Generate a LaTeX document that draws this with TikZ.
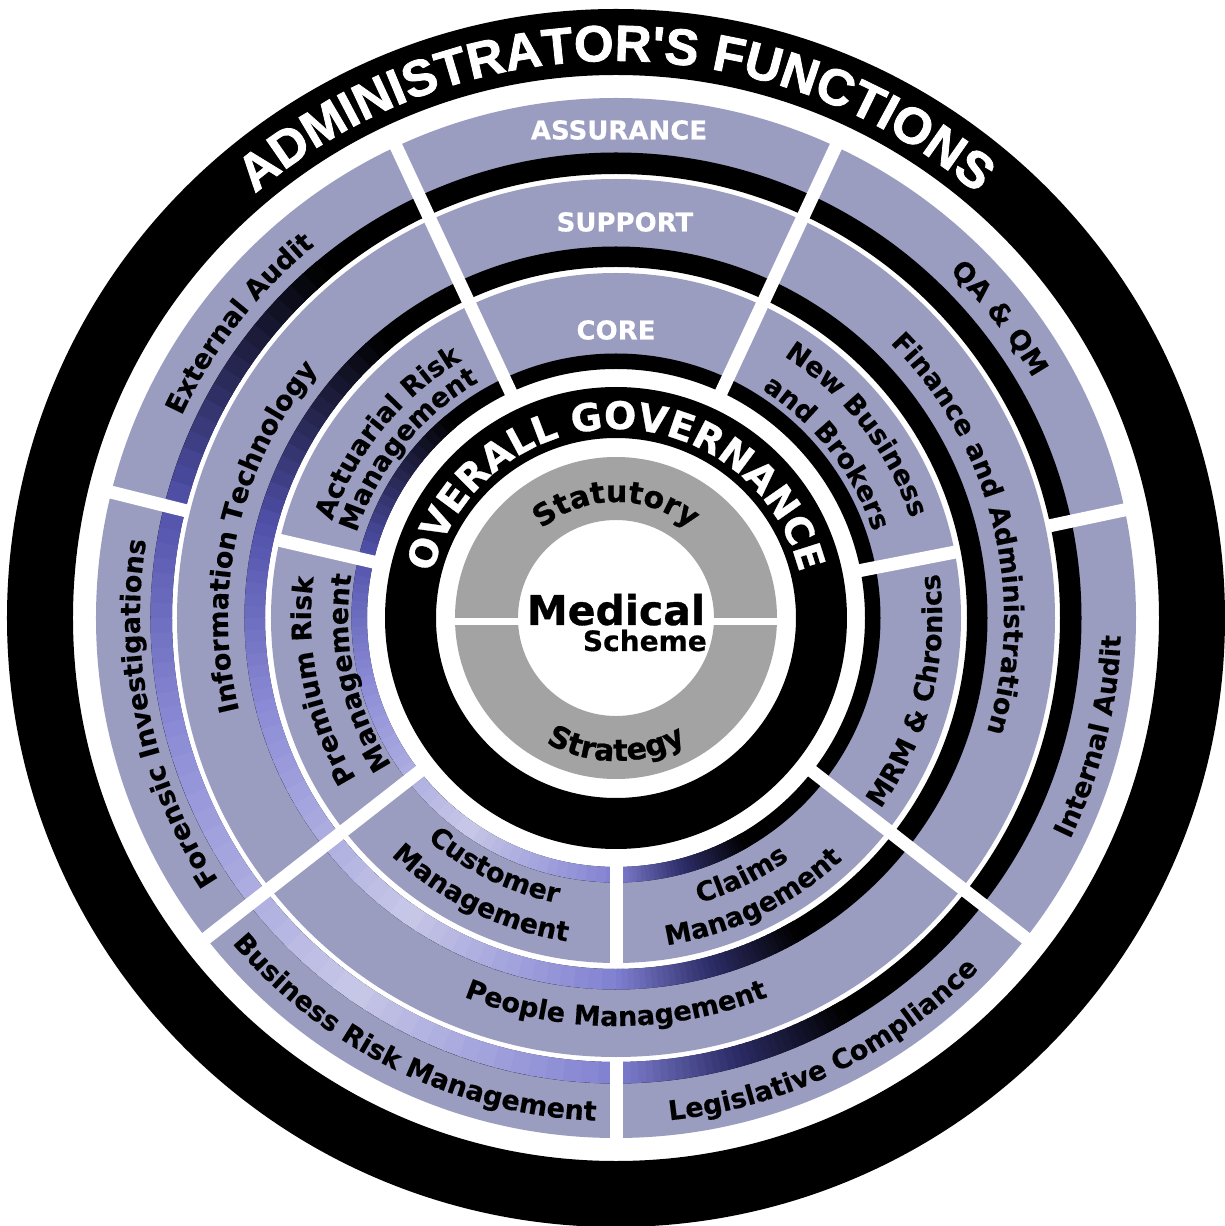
\documentclass[tikz,border=0pt]{standalone}
\usepackage{fontspec}
\newfontfamily\dvfont{DejaVu Sans}
\newfontfamily\ttlheavy{Liberation Sans Bold}[FakeBold=1.6]
\newfontfamily\dvheavy{DejaVu Sans Bold}[FakeBold=0.8]
\newfontfamily\dvlbl{DejaVu Sans Bold}[FakeBold=0.4]
\usetikzlibrary{decorations.text}
\definecolor{ringpurple}{RGB}{154,156,192}
\definecolor{ringgray}{RGB}{163,163,163}
\definecolor{gbA}{RGB}{80,80,170}
\definecolor{gbB}{RGB}{140,140,215}
\definecolor{gbC}{RGB}{200,200,232}
\definecolor{gbD}{RGB}{128,128,210}
\definecolor{gbE}{RGB}{45,45,105}
\newcommand\annsec[4]{(#1:#3pt) arc[start angle=#1,end angle=#2,radius=#3pt] -- (#2:#4pt) arc[start angle=#2,end angle=#1,radius=#4pt] -- cycle}
\newcommand\lblfont{\dvlbl\fontsize{27}{30}\selectfont}
\newcommand\ttlfont{\color{white}\ttlheavy\fontsize{51}{56}\selectfont}
\newcommand\govfont{\color{white}\dvheavy\fontsize{38}{42}\selectfont}
\newcommand\grfont{\color{black}\dvheavy\fontsize{30}{34}\selectfont}
\newcommand\cwlabel[4][\lblfont]{%
  \pgfmathsetmacro\lsa{#2+88}\pgfmathsetmacro\lsb{#2-88}%
  \path[decorate,decoration={text along path,text align=center,text={|#1|#4}}]
    (\lsa:#3pt) arc[start angle=\lsa,end angle=\lsb,radius=#3pt];}
\newcommand\ccwlabel[4][\lblfont]{%
  \pgfmathsetmacro\lsa{#2-88}\pgfmathsetmacro\lsb{#2+88}%
  \path[decorate,decoration={text along path,text align=center,text={|#1|#4}}]
    (\lsa:#3pt) arc[start angle=\lsa,end angle=\lsb,radius=#3pt];}
\tikzset{
  wlabel/.style={text=white,font=\dvlbl\fontsize{26}{30}\selectfont,inner sep=0pt},
  divider/.style={white,line width=13pt}
}
\begin{document}
\begin{tikzpicture}[x=1pt,y=1pt]
\useasboundingbox (-616,-608) rectangle (609,618);
\fill[white] (-616,-608) rectangle (609,618);
% outer black ring
\fill[black,even odd rule] (0,0) circle[radius=609pt] (0,0) circle[radius=543pt];
% purple rings
\fill[ringpurple,even odd rule] (0,0) circle[radius=520pt] (0,0) circle[radius=465pt];
\fill[ringpurple,even odd rule] (0,0) circle[radius=439pt] (0,0) circle[radius=371pt];
\fill[ringpurple,even odd rule] (0,0) circle[radius=345pt] (0,0) circle[radius=264pt];
% shaded strips (conical gradient)
\foreach \rIn/\rOut in {444/465.5, 351/371.5, 249/264.5}{
  \fill[black,even odd rule] (0,0) circle[radius=\rOut pt] (0,0) circle[radius=\rIn pt];
  \foreach \angA/\angB/\colA/\colB in {130/165/black/gbA, 165/195/gbA/gbB, 195/235/gbB/gbC, 235/270/gbC/gbD, 270/285/gbD/gbE, 285/300/gbE/black}{
    \foreach \stp in {0,...,15}{
      \pgfmathsetmacro\slA{\angA+(\angB-\angA)*\stp/16}
      \pgfmathsetmacro\slB{\angA+(\angB-\angA)*(\stp+1)/16+0.4}
      \pgfmathsetmacro\mixp{100*(\stp+0.5)/16}
      \fill[\colB!\mixp!\colA] \annsec{\slA}{\slB}{\rOut}{\rIn};
    }
  }
}
% white dividers
\foreach \ang in {65,115,218,322}{\draw[divider] (\ang:240pt) -- (\ang:530pt);}
\foreach \ang in {270,166,12}{\draw[divider] (\ang:441pt) -- (\ang:530pt);}
\foreach \ang in {270,167,11}{\draw[divider] (\ang:240pt) -- (\ang:348pt);}
% governance ring
\fill[black,even odd rule] (0,0) circle[radius=231pt] (0,0) circle[radius=180pt];
% gray ring
\fill[ringgray,even odd rule] (0,0) circle[radius=161pt] (0,0) circle[radius=98pt];
\draw[white,line width=7pt] (-165,-4) -- (165,-4);
% curved titles
\cwlabel[\ttlfont]{90}{557}{ADMINISTRATOR'S FUNCTIONS}
\cwlabel[\govfont]{90}{189}{OVERALL GOVERNANCE}
\cwlabel[\grfont]{90}{116}{Statutory}
\ccwlabel[\grfont]{270}{143}{Strategy}
% ring A
\cwlabel{142}{479}{External Audit}
\cwlabel{192}{476}{Forensic Investigations}
\cwlabel{38}{481}{QA {\&} QM}
\ccwlabel{346}{505}{Internal Audit}
\ccwlabel{296}{505}{Legislative Compliance}
\ccwlabel{244}{503}{Business Risk Management}
% ring B
\cwlabel{167}{388}{Information Technology}
\cwlabel{14}{388}{Finance and Administration}
\ccwlabel{270}{408}{People Management}
% ring C
\cwlabel{141}{300}{Actuarial Risk}
\cwlabel{141}{273}{Management}
\cwlabel{38}{311}{New Business}
\cwlabel{38}{271}{and Brokers}
\cwlabel{192}{305}{Premium Risk}
\cwlabel{192}{268}{Management}
\ccwlabel{346}{326}{MRM {\&} Chronics}
\ccwlabel{296}{297}{Claims}
\ccwlabel{296}{331}{Management}
\ccwlabel{244}{291}{Customer}
\ccwlabel{244}{327}{Management}
% top wedge labels
\node[wlabel] (assurance) at (3,488) {ASSURANCE};
\node[wlabel] (support) at (9,396) {SUPPORT};
\node[wlabel] (core) at (0,288) {CORE};
% centre
\node[font=\dvheavy\fontsize{41}{44}\selectfont,anchor=base,inner sep=0pt] (medical) at (0,-7) {Medical};
\node[font=\dvlbl\fontsize{28}{30}\selectfont,anchor=base east,inner sep=0pt] (scheme) at (91,-33) {Scheme};
\end{tikzpicture}
\end{document}
